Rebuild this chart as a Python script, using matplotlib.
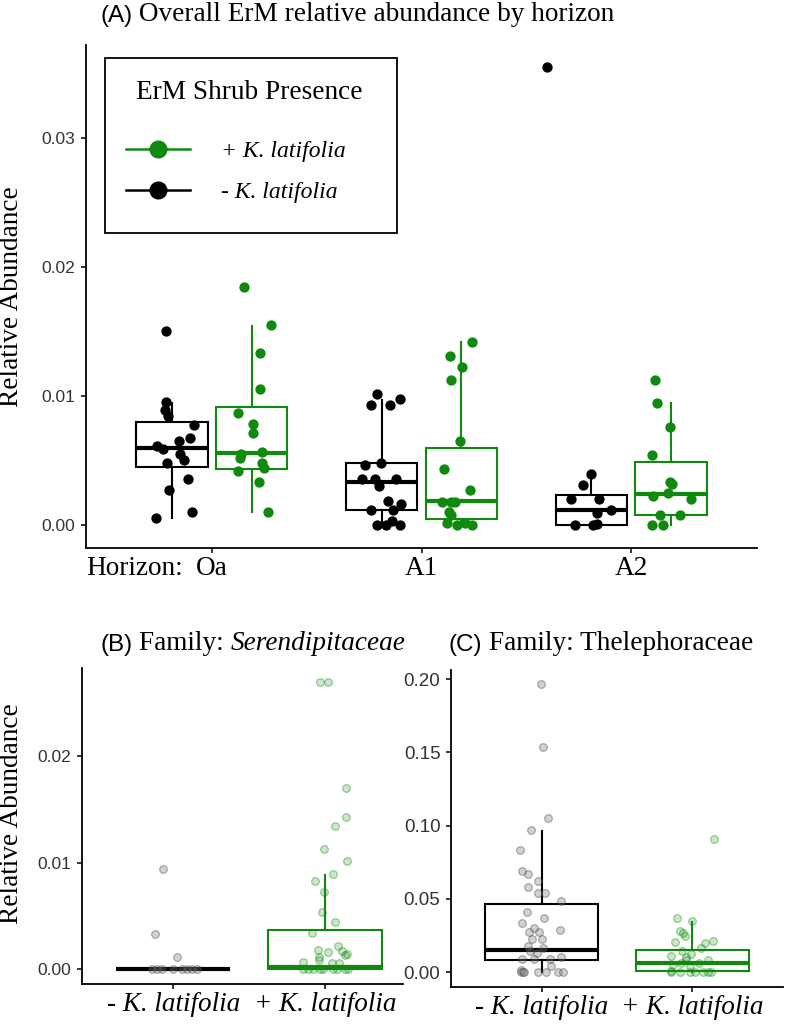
import matplotlib
matplotlib.use('Agg')
import matplotlib.pyplot as plt
from matplotlib.lines import Line2D
from matplotlib.patches import Rectangle
from matplotlib.colors import to_rgba

SERIF = 'Liberation Serif'
SANS = 'Liberation Sans'
plt.rcParams['font.family'] = [SERIF, 'DejaVu Serif']

GREEN = '#0f8a0f'
BLACK = '#000000'

# ---------------- Panel A data ----------------
horizons = ['Oa', 'A1', 'A2']
oa_minus = [0.01504, 0.00953, 0.00889, 0.00845, 0.00778, 0.00677, 0.00651, 0.00615,
            0.00587, 0.0055, 0.00504, 0.00483, 0.00354, 0.00269, 0.00101, 0.00057]
oa_minus_jit = [-0.029, -0.029, -0.033, -0.02, 0.103, 0.086, 0.032, -0.073,
                -0.044, 0.038, 0.057, -0.025, 0.075, -0.016, 0.094, -0.076]
oa_plus = [0.01845, 0.01548, 0.01333, 0.01057, 0.00866, 0.0078, 0.00716, 0.00566,
           0.00548, 0.00522, 0.00483, 0.00444, 0.00416, 0.00333, 0.00101]
oa_plus_jit = [-0.037, 0.092, 0.041, 0.041, -0.067, 0.008, 0.005, 0.051,
               -0.051, -0.056, 0.051, 0.06, -0.067, 0.035, 0.08]
a1_minus = [0.01013, 0.00928, 0.00928, 0.00974, 0.00465, 0.00478, 0.00354, 0.00354,
            0.00354, 0.00307, 0.00186, 0.00165, 0.00119, 0.00119, 0.00036, 0.0, 0.0, 0.0]
a1_minus_jit = [-0.022, -0.052, 0.04, 0.086, -0.08, -0.001, -0.095, -0.032,
                0.067, -0.013, 0.03, 0.094, -0.052, 0.056, 0.048, -0.024, 0.019, 0.086]
a1_plus = [0.01419, 0.0131, 0.01225, 0.01121, 0.00649, 0.00437, 0.00269, 0.00181,
           0.00181, 0.00181, 0.00103, 0.00078, 0.00013, 0.0, 0.00013, 0.0]
a1_plus_jit = [0.049, -0.056, 0.001, -0.049, -0.008, -0.082, 0.043, -0.092,
               -0.048, -0.032, -0.059, -0.048, -0.068, -0.019, 0.016, 0.049]
a2_minus = [0.0355, 0.00398, 0.0031, 0.00202, 0.00202, 0.00119, 0.00096, 0.0, 0.0, 0.0001]
a2_minus_jit = [-0.21, -0.003, -0.04, -0.099, 0.038, 0.095, 0.027, -0.078, 0.008, 0.027]
a2_plus = [0.01121, 0.00948, 0.00757, 0.00545, 0.00333, 0.00322, 0.00222, 0.00248,
           0.00202, 0.00075, 0.00075, 0.0, 0.0]
a2_plus_jit = [-0.078, -0.065, -0.003, -0.09, -0.003, 0.003, -0.087, -0.013,
               0.097, -0.054, 0.044, -0.092, -0.04]
# box stats per horizon: q1, median, q3, whisker low, whisker high
box_a_minus = [[0.00447, 0.0060, 0.0080, 0.00057, 0.00943],
               [0.00119, 0.00333, 0.00478, 0.0, 0.00969],
               [0.0, 0.00119, 0.00233, 0.0, 0.00398]]
box_a_plus = [[0.00437, 0.00558, 0.00915, 0.00101, 0.01543],
              [0.00044, 0.00186, 0.0060, 0.0, 0.01419],
              [0.00075, 0.00243, 0.0049, 0.0, 0.00943]]
legend_labels = ['+ K. latifolia', '- K. latifolia']

# ---------------- Panel B data (Serendipitaceae) ----------------
groups = ['- K. latifolia', '+ K. latifolia']
b_minus = [0.00938, 0.00326, 0.00116, 0.0, 0.0, 0.0, 0.0, 0.0, 0.0, 0.0, 0.0]
b_minus_jit = [-0.064, -0.118, 0.024, -0.138, -0.105, -0.072, 0.0, 0.059, 0.092, 0.125, 0.158]
b_plus = [0.02697, 0.02697, 0.01706, 0.0143, 0.01342, 0.01132, 0.01016, 0.00894,
          0.00825, 0.00724, 0.00536, 0.00445, 0.00336, 0.00216, 0.00179, 0.00157,
          0.00172, 0.00135, 0.0014, 0.0011, 0.00085, 0.00066, 0.0006, 0.0006,
          0.0, 0.0, 0.0, 0.0, 0.0, 0.0, 0.0, 0.0, 0.0]
b_plus_jit = [-0.033, 0.018, 0.138, 0.136, 0.066, -0.009, 0.143, 0.055,
              -0.066, -0.009, -0.022, 0.066, -0.086, 0.084, -0.048, 0.022,
              0.11, 0.132, 0.143, -0.039, -0.039, -0.145, 0.044, 0.092,
              -0.145, -0.11, -0.077, -0.033, -0.011, 0.055, 0.077, 0.132, 0.153]
box_b = [[0.0, 0.0, 0.0, 0.0, 0.0],
         [0.0, 0.00022, 0.00367, 0.0, 0.00884]]

# ---------------- Panel C data (Thelephoraceae) ----------------
c_minus = [0.1966, 0.1538, 0.1053, 0.0967, 0.0837, 0.0687, 0.0671, 0.0619, 0.0578,
           0.0539, 0.0537, 0.0487, 0.0412, 0.0371, 0.0337, 0.0300, 0.0273, 0.0273,
           0.0284, 0.0223, 0.0223, 0.018, 0.0164, 0.0141, 0.013, 0.0089, 0.0089,
           0.0089, 0.0104, 0.0043, 0.0016, 0.0, 0.0, 0.0, 0.0, 0.0, 0.0, 0.0]
c_minus_jit = [-0.003, 0.009, 0.042, -0.069, -0.142, -0.13, -0.093, -0.025, -0.093,
               -0.025, 0.024, 0.128, -0.099, 0.013, -0.132, -0.053, -0.082, -0.02,
               0.119, -0.06, 0.0, -0.093, 0.007, -0.077, -0.033, -0.132, -0.049,
               0.057, 0.128, 0.062, -0.137, -0.137, -0.122, -0.115, -0.023, 0.029, 0.11, 0.143]
c_plus = [0.0908, 0.0369, 0.035, 0.0282, 0.0266, 0.0243, 0.0205, 0.0209, 0.0198,
          0.0164, 0.0141, 0.0125, 0.0107, 0.01, 0.0084, 0.0084, 0.0061, 0.0061,
          0.005, 0.0039, 0.0005, 0.0, 0.0, 0.0, 0.0, 0.0, 0.0, 0.0]
c_plus_jit = [0.143, -0.102, -0.003, -0.082, -0.062, -0.051, -0.117, 0.136, 0.081,
              0.055, -0.066, -0.007, -0.144, -0.046, 0.103, -0.04, -0.073, 0.044,
              -0.128, -0.018, -0.139, -0.139, -0.084, -0.018, 0.015, 0.07, 0.103, 0.126]
box_c = [[0.0084, 0.0148, 0.0466, 0.0, 0.0965],
         [0.0009, 0.0061, 0.0152, 0.0, 0.0345]]

# ---------------- figure ----------------
W, H = 787, 1025
fig = plt.figure(figsize=(W / 100, H / 100), dpi=100)
BIG = 19.6


def px_axes(left, right, top, bottom):
    return fig.add_axes([left / W, 1 - bottom / H, (right - left) / W, (bottom - top) / H])


def style_axes(ax, tick_size):
    for s in ['top', 'right']:
        ax.spines[s].set_visible(False)
    for s in ['left', 'bottom']:
        ax.spines[s].set_linewidth(1.3)
        ax.spines[s].set_color('black')
    ax.tick_params(axis='both', length=3.6, width=1.1, color='black')
    ax.tick_params(axis='y', labelsize=tick_size, pad=4)
    for lab in ax.get_yticklabels():
        lab.set_fontfamily(SANS)
        lab.set_color('#333333')


def draw_boxes(ax, rows, positions, color, width, lw=1.5, mlw=3.0, z=2):
    stats = [dict(q1=r[0], med=r[1], q3=r[2], whislo=r[3], whishi=r[4]) for r in rows]
    ax.bxp(stats, positions=positions, widths=width, showfliers=False, showcaps=False,
           patch_artist=True, manage_ticks=False,
           boxprops=dict(facecolor='none', edgecolor=color, linewidth=lw, zorder=z),
           medianprops=dict(color=color, linewidth=mlw, solid_capstyle='butt', zorder=z),
           whiskerprops=dict(color=color, linewidth=lw, zorder=z))


# ---- Panel A ----
axA = px_axes(86, 757, 45, 548)
dodge = 0.19
xs = [1, 2, 3]
draw_boxes(axA, box_a_minus, [x - dodge for x in xs], BLACK, 0.34)
draw_boxes(axA, box_a_plus, [x + dodge for x in xs], GREEN, 0.34)
for i, (vals, jit) in enumerate([(oa_minus, oa_minus_jit), (a1_minus, a1_minus_jit), (a2_minus, a2_minus_jit)]):
    axA.scatter([xs[i] - dodge + j for j in jit], vals, s=55, color=BLACK, linewidths=0, zorder=3)
for i, (vals, jit) in enumerate([(oa_plus, oa_plus_jit), (a1_plus, a1_plus_jit), (a2_plus, a2_plus_jit)]):
    axA.scatter([xs[i] + dodge + j for j in jit], vals, s=55, color=GREEN, linewidths=0, zorder=3)
axA.set_xlim(0.4, 3.6)
axA.set_ylim(-0.00177, 0.0372)
axA.set_yticks([0.0, 0.01, 0.02, 0.03])
axA.set_yticklabels(['0.00', '0.01', '0.02', '0.03'])
axA.set_xticks(xs)
axA.set_xticklabels(horizons, fontsize=BIG)
style_axes(axA, 12.5)
axA.tick_params(axis='x', pad=2)
axA.annotate('Horizon:', xy=(1, 0), xycoords=('data', 'axes fraction'),
             xytext=(-21, -5.6), textcoords='offset points', ha='right', va='top',
             fontsize=BIG, annotation_clip=False)

# legend (frame, title and rows placed to match the reference box)
axA.add_patch(Rectangle((0.0283, 0.6262), 0.4352, 0.348, transform=axA.transAxes,
                        facecolor='white', edgecolor='black', linewidth=1.3, zorder=4))
axA.text(0.2437, 0.9046, 'ErM Shrub Presence', transform=axA.transAxes, ha='center',
         va='center', fontsize=BIG, zorder=5)
handles = [Line2D([0], [0], color=GREEN, lw=1.8, marker='o', markersize=12),
           Line2D([0], [0], color=BLACK, lw=1.8, marker='o', markersize=12)]
leg = axA.legend(handles, legend_labels, prop=dict(family=SERIF, style='italic', size=17),
                 loc='center left', bbox_to_anchor=(0.0596, 0.7475), borderaxespad=0,
                 borderpad=0, frameon=False, handlelength=2.69,
                 handletextpad=1.34, labelspacing=0.82)
leg.set_zorder(6)

# ---- Panel B ----
axB = px_axes(82, 403, 668, 984)
gx = [1, 2]
draw_boxes(axB, [box_b[0]], [gx[0]], BLACK, 0.75)
draw_boxes(axB, [box_b[1]], [gx[1]], GREEN, 0.75)
grey_face = (0.5, 0.5, 0.5, 0.35)
grey_edge = (0.25, 0.25, 0.25, 0.45)
green_face = to_rgba(GREEN, 0.22)
green_edge = to_rgba(GREEN, 0.45)
axB.scatter([gx[0] + j for j in b_minus_jit], b_minus, s=30, facecolors=grey_face,
            edgecolors=grey_edge, linewidths=0.8, zorder=3)
axB.scatter([gx[1] + j for j in b_plus_jit], b_plus, s=30, facecolors=green_face,
            edgecolors=green_edge, linewidths=0.8, zorder=3)
axB.set_xlim(0.4, 2.513)
axB.set_ylim(-0.00141, 0.0283)
axB.set_yticks([0.0, 0.01, 0.02])
axB.set_yticklabels(['0.00', '0.01', '0.02'])
axB.set_xticks(gx)
axB.set_xticklabels(groups, fontsize=19.5, fontstyle='italic')
style_axes(axB, 12.5)
axB.tick_params(axis='x', pad=2)

# ---- Panel C ----
axC = px_axes(451, 783, 670, 987)
draw_boxes(axC, [box_c[0]], [gx[0]], BLACK, 0.75)
draw_boxes(axC, [box_c[1]], [gx[1]], GREEN, 0.75)
axC.scatter([gx[0] + j for j in c_minus_jit], c_minus, s=30, facecolors=grey_face,
            edgecolors=grey_edge, linewidths=0.8, zorder=3)
axC.scatter([gx[1] + j for j in c_plus_jit], c_plus, s=30, facecolors=green_face,
            edgecolors=green_edge, linewidths=0.8, zorder=3)
axC.set_xlim(0.4, 2.6)
axC.set_ylim(-0.0102, 0.2063)
axC.set_yticks([0.0, 0.05, 0.10, 0.15, 0.20])
axC.set_yticklabels(['0.00', '0.05', '0.10', '0.15', '0.20'])
axC.set_xticks(gx)
axC.set_xticklabels(groups, fontsize=19.5, fontstyle='italic')
style_axes(axC, 13.5)
axC.tick_params(axis='x', pad=2)


# ---- titles with mixed fonts ----
def rainbow(x_px, y_px, pieces):
    first_txt, first_kw = pieces[0]
    prev = fig.text(x_px / W, 1 - y_px / H, first_txt, ha='left', va='bottom', **first_kw)
    for txt, kw in pieces[1:]:
        prev = axA.annotate(txt, xy=(1, 0), xycoords=prev, xytext=(0, 0),
                            textcoords='offset points', ha='left', va='bottom',
                            annotation_clip=False, **kw)


rainbow(100, 27, [('(A)', dict(fontfamily=SANS, fontsize=17.5)),
                  (' Overall ErM relative abundance by horizon', dict(fontsize=BIG))])
rainbow(100, 656, [('(B)', dict(fontfamily=SANS, fontsize=17.5)),
                   (' Family: ', dict(fontsize=BIG)),
                   ('Serendipitaceae', dict(fontsize=BIG, fontstyle='italic'))])
rainbow(448, 656, [('(C)', dict(fontfamily=SANS, fontsize=17.5)),
                   (' Family: Thelephoraceae', dict(fontsize=BIG))])

fig.text(12 / W, 1 - 297 / H, 'Relative Abundance', rotation=90, ha='center', va='center', fontsize=BIG)
fig.text(12 / W, 1 - 814 / H, 'Relative Abundance', rotation=90, ha='center', va='center', fontsize=BIG)

fig.savefig('out.png', dpi=100)
